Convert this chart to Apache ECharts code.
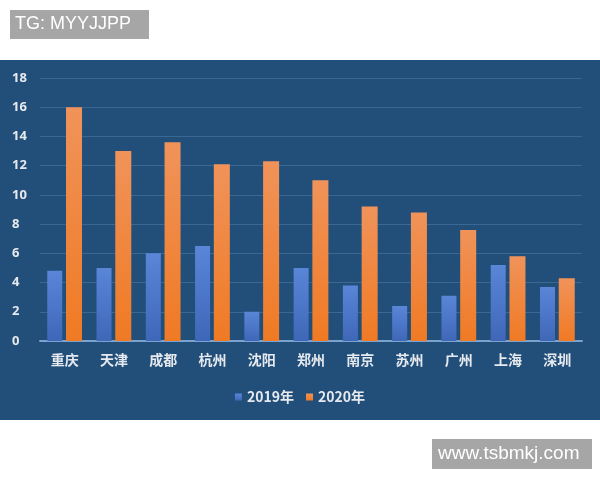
<!DOCTYPE html>
<html>
<head>
<meta charset="utf-8">
<script src="https://cdn.jsdelivr.net/npm/echarts@6/dist/echarts.min.js"></script>
<style>html,body{margin:0;padding:0;background:#fff;}#c{width:600px;height:480px;}</style>
</head>
<body>
<div id="c"></div>
<script>
const categories = ['重庆','天津','成都','杭州','沈阳','郑州','南京','苏州','广州','上海','深圳'];
const seriesNames = ['2019年','2020年'];
const values2019 = [4.8, 5.0, 6.0, 6.5, 2.0, 5.0, 3.8, 2.4, 3.1, 5.2, 3.7];
const values2020 = [16.0, 13.0, 13.6, 12.1, 12.3, 11.0, 9.2, 8.8, 7.6, 5.8, 4.3];
const yTicks = [0, 2, 4, 6, 8, 10, 12, 14, 16, 18];

const chart = echarts.init(document.getElementById('c'));
const grad = (top, bottom) => new echarts.graphic.LinearGradient(0, 0, 0, 1, [{offset: 0, color: top}, {offset: 1, color: bottom}]);
chart.setOption({
  backgroundColor: '#ffffff',
  graphic: [
    {type: 'rect', z: -10, silent: true, shape: {x: 0, y: 60, width: 600, height: 360}, style: {fill: '#214f7a'}},
    {type: 'rect', z: 100, shape: {x: 10, y: 10, width: 139, height: 29}, style: {fill: '#a6a6a6'}},
    {type: 'text', z: 101, left: 15, top: 15, style: {text: 'TG: MYYJJPP', fill: '#ffffff', font: '18px "Liberation Sans", Arial, sans-serif'}},
    {type: 'rect', z: 100, shape: {x: 432, y: 439, width: 160, height: 30}, style: {fill: '#a6a6a6'}},
    {type: 'text', z: 101, left: 438, top: 444, style: {text: 'www.tsbmkj.com', fill: '#ffffff', font: '19px "Liberation Sans", Arial, sans-serif'}}
  ],
  grid: {left: 40, right: 18, top: 78, bottom: 139},
  legend: {
    data: seriesNames,
    top: 385,
    left: 'center',
    itemWidth: 7,
    itemHeight: 7,
    itemGap: 12,
    icon: 'rect',
    textStyle: {color: '#e6e9ee', fontSize: 14, fontWeight: 'bold', fontFamily: '"Noto Sans CJK SC", sans-serif'}
  },
  xAxis: {
    type: 'category',
    data: categories,
    axisLine: {lineStyle: {color: '#7aa3cf', width: 2}},
    axisTick: {show: false},
    axisLabel: {color: '#e6e9ee', fontSize: 14, fontWeight: 'bold', margin: 12, fontFamily: '"Noto Sans CJK SC", sans-serif'}
  },
  yAxis: {
    type: 'value',
    min: yTicks[0],
    max: yTicks[yTicks.length - 1],
    interval: 2,
    axisLine: {show: false},
    axisTick: {show: false},
    splitLine: {lineStyle: {color: '#3a6892', width: 1}},
    axisLabel: {color: '#e6e9ee', fontSize: 13, fontWeight: 'bold', margin: 0, align: 'left', padding: [0, 0, 0, -28], fontFamily: '"Noto Sans", sans-serif'}
  },
  series: [
    {name: seriesNames[0], type: 'bar', data: values2019, barWidth: 15, barGap: '25%',
     itemStyle: {color: grad('#5a86d8', '#3f67b8')}},
    {name: seriesNames[1], type: 'bar', data: values2020, barWidth: 16,
     itemStyle: {color: grad('#f0935a', '#f07a24')}}
  ]
});
</script>
</body>
</html>
